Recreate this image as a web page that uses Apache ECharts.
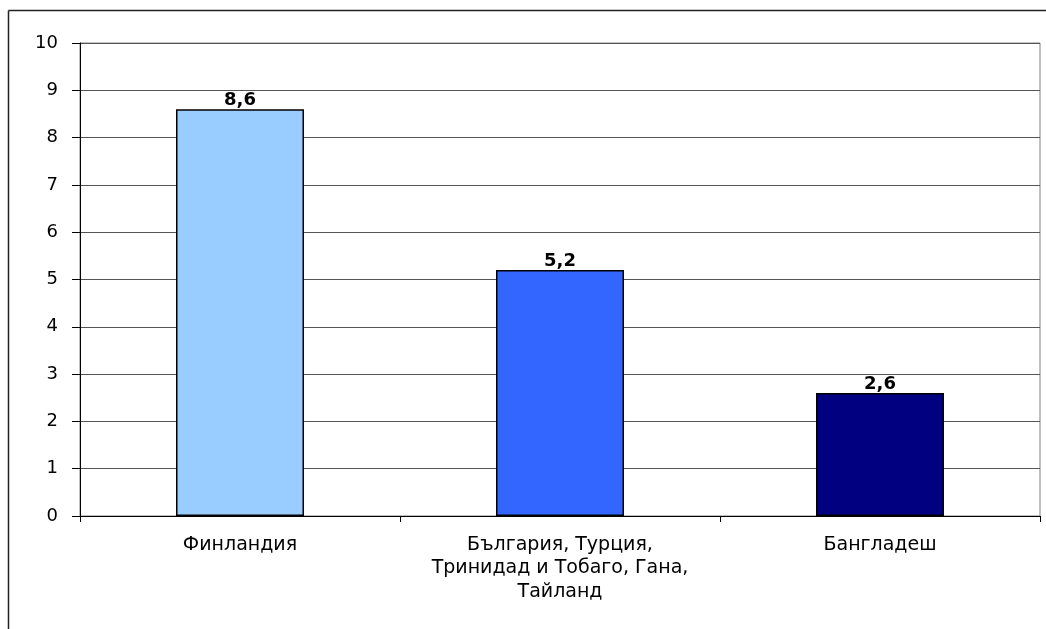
<!DOCTYPE html>
<html><head><meta charset="utf-8">
<script src="https://cdn.jsdelivr.net/npm/echarts@6/dist/echarts.min.js"></script>
<style>html,body{margin:0;padding:0;background:#fff}#c{width:1046px;height:629px}</style>
</head><body><div id="c"></div>
<script>
var categories = ['Финландия', 'България, Турция,\nТринидад и Тобаго, Гана,\nТайланд', 'Бангладеш'];
var values = [8.6, 5.2, 2.6];
var barColors = ['#99CCFF', '#3366FF', '#000080'];
var yTicks = [0, 1, 2, 3, 4, 5, 6, 7, 8, 9, 10];

var chart = echarts.init(document.getElementById('c'), null, {renderer: 'canvas'});
var font = 'DejaVu Sans, Verdana, sans-serif';
chart.setOption({
  animation: false,
  backgroundColor: '#fff',
  graphic: [
    {type: 'line', shape: {x1: 8.5, y1: 10.5, x2: 1046, y2: 10.5}, style: {stroke: '#222', lineWidth: 1.5}},
    {type: 'line', shape: {x1: 8.5, y1: 10.5, x2: 8.5, y2: 629}, style: {stroke: '#222', lineWidth: 1.5}}
  ],
  grid: {left: 80, right: 6, top: 43, bottom: 113, show: true, borderColor: '#808080', borderWidth: 1},
  xAxis: {
    type: 'category',
    data: categories,
    axisLine: {lineStyle: {color: '#000', width: 1}},
    axisTick: {show: true, length: 6, lineStyle: {color: '#000'}},
    axisLabel: {color: '#000', fontSize: 19, fontFamily: font, lineHeight: 23.5, margin: 17, interval: 0}
  },
  yAxis: {
    type: 'value',
    min: 0, max: 10, interval: 1,
    axisLine: {show: true, lineStyle: {color: '#000', width: 1}},
    axisTick: {show: true, length: 8, lineStyle: {color: '#000'}},
    splitLine: {show: true, lineStyle: {color: '#555', width: 1}},
    axisLabel: {color: '#000', fontSize: 18, fontFamily: font, margin: 22,
      formatter: function (v) { return yTicks.indexOf(v) >= 0 ? String(v) : ''; }}
  },
  series: [{
    type: 'bar',
    data: values.map(function (v, i) { return {value: v, itemStyle: {color: barColors[i]}}; }),
    barWidth: '40%',
    itemStyle: {borderColor: '#000', borderWidth: 1.5},
    label: {show: true, position: 'top', distance: 0, color: '#000', fontSize: 18, fontWeight: 'bold', fontFamily: font,
      formatter: function (p) { return String(p.value).replace('.', ','); }}
  }]
});
</script></body></html>
